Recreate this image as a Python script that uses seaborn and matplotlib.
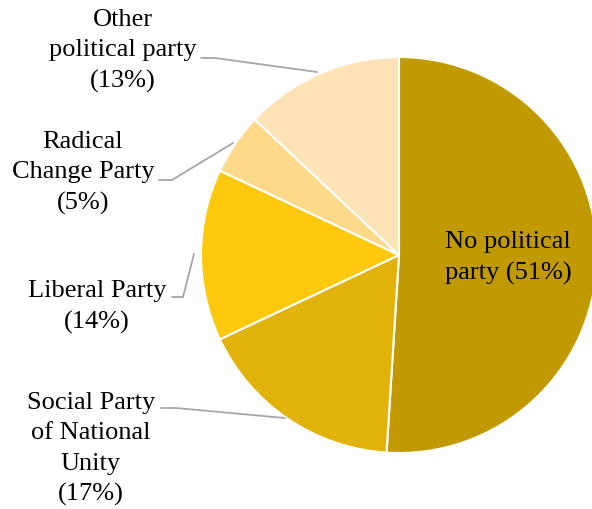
import matplotlib
matplotlib.use("Agg")
import matplotlib.pyplot as plt
import seaborn as sns

categories = ["No political\nparty", "Social Party\nof National\nUnity", "Liberal Party",
              "Radical\nChange Party", "Other\npolitical party"]
shares = [51, 17, 14, 5, 13]
colors = ["#C09A00", "#E1B20A", "#FEC90C", "#FED98A", "#FEE3B6"]

sns.set_theme(style="white")
plt.rcParams['font.family'] = ['Liberation Serif', 'DejaVu Serif']

fig = plt.figure(figsize=(5.92, 5.10), dpi=100)
ax = fig.add_axes([0, 0, 1, 1])

H = 510
cx, cy, r = 399, H - 256, 198
ax.pie(shares, colors=colors, startangle=90, counterclock=False,
       center=(cx, cy), radius=r, frame=True,
       wedgeprops=dict(edgecolor="white", linewidth=1.5))
ax.set_xlim(0, 592)
ax.set_ylim(0, 510)
ax.set_aspect('equal')
ax.axis('off')

fs = 19
labels = [f"{c} ({v}%)" if i == 0 else f"{c}\n({v}%)" for i, (c, v) in enumerate(zip(categories, shares))]
# label positions (pixel coords, y from top)
pos = [(508, 258), (91, 449), (97, 307), (83, 173), (123, 51)]
for lab, (x, y) in zip(labels, pos):
    ax.text(x, H - y, lab, ha="center", va="center", fontsize=fs, color="black",
            linespacing=1.5)

# leader lines
lc = "#A6A6A6"
leaders = [
    [(161, 409), (176, 409), (285, 419)],
    [(172, 298), (183, 298), (194, 255)],
    [(159, 181), (172, 181), (233, 144)],
    [(201, 59), (215, 59), (317, 73)],
]
for pts in leaders:
    xs = [p[0] for p in pts]
    ys = [H - p[1] for p in pts]
    ax.plot(xs, ys, color=lc, lw=1.3)

fig.savefig("out.png", dpi=100)
